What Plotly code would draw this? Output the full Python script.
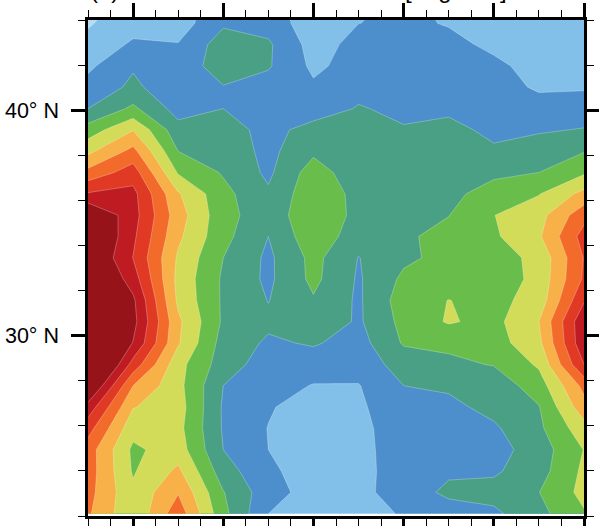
import plotly.graph_objects as go

# longitudes (2 degree columns) and latitudes (rows, north to south)
lons = [98, 100, 102, 104, 106, 108, 110, 112, 114, 116, 118, 120]
lats = [44.8, 43.86, 42.91, 41.96, 41.02, 40.07, 39.13, 38.18, 37.24, 36.29, 35.34, 34.4, 33.45,
        32.51, 31.56, 30.62, 29.67, 28.72, 27.78, 26.83, 25.89, 24.94, 24.0, 23.05, 22.1]

c098 = [.5, .9, 1.3, 1.8, 2.35, 3.0, 4.45, 5.75, 7.3, 9.1, 11.2, 11.6, 11.3, 11.8, 12.3, 12.5, 12.5, 13, 11.4, 9.6, 8.4, 7.5, 7.5, 7.35, 7.15]
c100 = [1.4, 1.6, 2.15, 2.9, 3.2, 4.2, 5.95, 7.3, 8.5, 9.3, 9.4, 9.2, 8.97, 9.5, 10.2, 10.35, 9.95, 8.6, 7.0, 6.05, 5.35, 4.8, 4.9, 5.2, 5.15]
c102 = [1.4, 1.5, 2.05, 2.4, 2.35, 2.6, 3.35, 4.0, 4.9, 6.1, 6.45, 6.2, 5.85, 5.7, 5.8, 6.2, 6.1, 5.35, 5.3, 5.45, 5.3, 5.5, 6.2, 6.93, 7.6]
c104 = [2.7, 2.85, 3.5, 3.5, 2.95, 3.0, 3.3, 3.6, 3.9, 4.3, 4.35, 4.3, 4.0, 3.85, 3.85, 3.85, 3.6, 3.5, 3.0, 2.88, 2.9, 3.0, 3.45, 4.05, 4.3]
c106 = [2.5, 2.6, 3.15, 3.1, 2.6, 2.5, 2.78, 2.73, 2.8, 3.15, 3.4, 3.0, 2.8, 2.8, 2.97, 3.2, 2.85, 2.5, 2.4, 2.1, 1.97, 2.0, 2.2, 2.4, 2.0]
c108 = [1.3, 1.4, 1.6, 1.8, 2.15, 2.65, 3.25, 3.8, 4.5, 4.7, 4.75, 4.7, 4.3, 4.25, 3.9, 3.8, 3.1, 2.5, 1.95, 1.5, 1.5, 1.5, 1.5, 1.6, 1.5]
c110 = [1.9, 1.99, 2.3, 2.4, 2.8, 3.05, 3.3, 3.3, 3.36, 3.7, 3.73, 3.44, 2.97, 2.88, 2.85, 2.85, 2.6, 2.45, 1.95, 1.85, 1.75, 1.7, 1.7, 1.7, 1.6]
c112 = [2.1, 2.15, 2.3, 2.5, 2.7, 2.85, 3.05, 3.3, 3.4, 3.45, 3.5, 3.85, 3.8, 4.2, 4.5, 4.3, 4.1, 3.4, 3.0, 2.6, 2.5, 2.5, 2.45, 2.5, 2.09]
c114 = [1.9, 1.95, 2.2, 2.4, 2.6, 2.8, 3.3, 3.5, 3.6, 3.75, 3.98, 4.3, 4.3, 4.6, 5.02, 5.1, 4.2, 3.8, 3.15, 2.75, 2.6, 2.6, 2.85, 3.2, 2.55]
c116 = [1.6, 1.7, 1.85, 2.15, 2.3, 2.45, 2.75, 3.15, 3.8, 4.4, 4.98, 4.85, 4.6, 4.4, 4.7, 4.7, 4.55, 4.05, 3.4, 3.3, 2.85, 2.6, 2.85, 3.35, 2.8]
c118 = [1.3, 1.4, 1.5, 1.75, 1.9, 2.3, 2.9, 3.45, 4.0, 4.95, 5.64, 5.85, 5.25, 5.3, 5.4, 6.0, 5.75, 5.15, 4.5, 3.95, 3.8, 3.5, 3.6, 3.98, 3.7]
c120 = [1.2, 1.3, 1.4, 1.5, 1.9, 2.5, 3.05, 3.95, 4.85, 6.3, 7.65, 8.4, 8.05, 8.15, 8.9, 9.8, 9.75, 9.0, 7.3, 6.6, 5.6, 5.03, 5.2, 5.3, 4.9]

band_colors = ["#B5DDF5", "#82C0E9", "#4D8FCC", "#4AA084", "#69BD4B", "#D3DC59",
               "#F8B048", "#F36B2A", "#E03A25", "#BE1B23", "#961419"]
y_tickvals = [30, 40]
y_ticktext = ["30° N", "40° N"]

columns = [c098, c100, c102, c104, c106, c108, c110, c112, c114, c116, c118, c120]
z = [[col[r] for col in columns] for r in range(len(lats))]

n = len(band_colors)
scale = []
for i, c in enumerate(band_colors):
    scale.append([i / n, c])
    scale.append([(i + 1) / n, c])

fig = go.Figure(go.Contour(
    x=lons, y=lats, z=z,
    zmin=0, zmax=n, autocontour=False,
    contours=dict(start=1, end=10, size=1, coloring="fill", showlines=True),
    line=dict(color="rgba(255,255,255,0.45)", width=0.6, smoothing=0),
    colorscale=scale, showscale=False, hoverinfo="skip",
))

axis_common = dict(showgrid=False, zeroline=False, showline=True, linecolor="black", linewidth=2.5,
                   mirror="allticks", ticks="outside", tickcolor="black", tickwidth=2.5, ticklen=14,
                   automargin=False)
fig.update_xaxes(range=[98, 120], tick0=100, dtick=4, showticklabels=False,
                 minor=dict(tick0=98, dtick=1, ticks="outside", ticklen=7, tickwidth=1.3, tickcolor="black", showgrid=False),
                 **axis_common)
fig.update_yaxes(range=[22, 44], tickmode="array", tickvals=y_tickvals, ticktext=y_ticktext,
                 tickfont=dict(family="Liberation Sans", size=21.5, color="black"), ticklabelstandoff=8,
                 minor=dict(tickmode="array", tickvals=[22, 24, 26, 28, 32, 34, 36, 38, 42, 44], ticks="outside", ticklen=7, tickwidth=1.3, tickcolor="black", showgrid=False),
                 **axis_common)

fig.add_annotation(text="(a)", xref="paper", yref="paper", x=0, y=1, xanchor="left", yanchor="bottom",
                   yshift=15, showarrow=False, font=dict(family="Liberation Sans", size=24, color="black"))
fig.add_annotation(text="[ mg m<sup>-2</sup> ]", xref="paper", yref="paper", x=0.635, y=1, xanchor="left", yanchor="bottom",
                   yshift=15, showarrow=False, font=dict(family="Liberation Sans", size=24, color="black"))

fig.update_layout(width=599, height=526, autosize=False, plot_bgcolor="white", paper_bgcolor="white",
                  margin=dict(l=88, r=15, t=20, b=10), showlegend=False)
fig.write_html("out.html", post_script="document.body.style.margin='0';", config=dict(displayModeBar=False))
